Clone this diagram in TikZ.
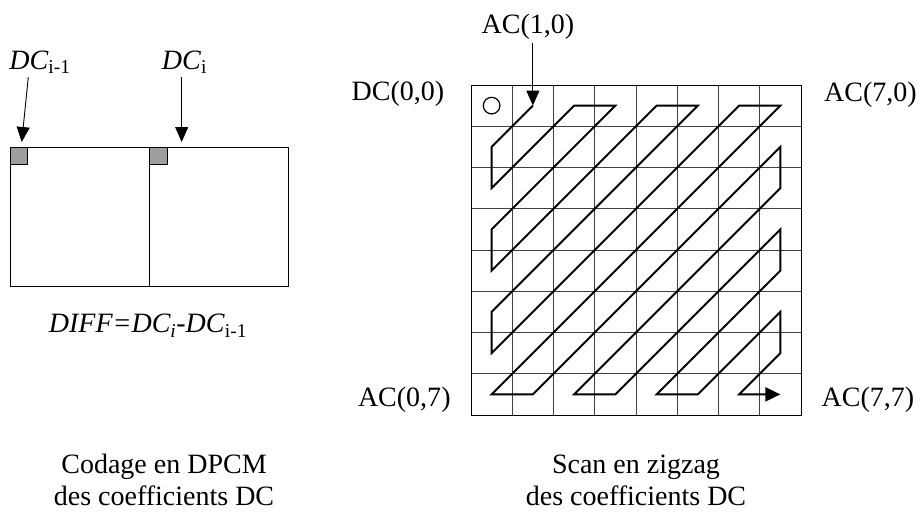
\documentclass[tikz,border=0pt]{standalone}
\usepackage{fontspec}
\setmainfont{Liberation Serif}
\usetikzlibrary{calc}
\usetikzlibrary{arrows.meta}

\begin{document}
\begin{tikzpicture}[x=1pt,y=-1pt,font=\fontsize{28}{32}\selectfont]
\tikzstyle{lbl}=[anchor=base, inner sep=3.3pt]
\tikzstyle{arr}=[line width=0.9pt, -{Triangle[width=13pt,length=15pt]}]
\tikzstyle{dcbox}=[draw, line width=1pt, fill=black!38]

\useasboundingbox (0,0) rectangle (920,511);

% codage DPCM
\draw[line width=1pt] (10,147) rectangle (288.7,286);
\draw[line width=1pt] (149.3,147) -- (149.3,286);
\draw[dcbox] (10,147) rectangle (27.7,164.7);
\draw[dcbox] (149.3,147) rectangle (167,164.7);

\node (dcprev) [lbl] at (40,69.3) {\textit{DC}\textsubscript{i-1}};
\node (dci) [lbl] at (184.5,69.3) {\textit{DC}\textsubscript{i}};
\coordinate (dcprevtip) at (21.7,142);
\coordinate (dcitip) at (181.7,142);
\draw[arr] ($(dcprev.south)+(-11.7,0)$) -- (dcprevtip);
\draw[arr] (dci.south -| dcitip) -- (dcitip);

\node (diff) [lbl] at (148,332.7) {\textit{DIFF=DC\textsubscript{i}-DC}\textsubscript{i-1}};
\node (capdpcm) [lbl, align=center] at (164,505) {Codage en DPCM\\des coefficients DC};

% scan en zigzag
\node (dc00) [lbl] at (398,100) {DC(0,0)};
\node (ac10) [lbl] at (528,33.3) {AC(1,0)};
\node (ac70) [lbl] at (870.5,101) {AC(7,0)};
\node (ac07) [lbl] at (404.3,406.7) {AC(0,7)};
\node (ac77) [lbl] at (868,406.7) {AC(7,7)};
\node (capzz) [lbl, align=center] at (636,505) {Scan en zigzag\\des coefficients DC};

\begin{scope}[shift={(471,85)}, x=41.25pt, y=-41.25pt]
\foreach \k in {1,...,7} {
  \draw[line width=0.8pt, black!75] (\k,0) -- (\k,8);
  \draw[line width=0.8pt, black!75] (0,\k) -- (8,\k);
}
\draw[line width=1pt] (0,0) rectangle (8,8);
\draw[line width=1.2pt] (.5,.5) circle (8.3pt);
\coordinate (ac10tip) at (1.5,.5);
\draw[line width=1.9pt, -{Triangle[width=14pt,length=15pt]}]
  (1.5,.5) -- (.5,1.5) -- (.5,2.5) -- (2.5,.5) -- (3.5,.5) -- (.5,3.5)
  -- (.5,4.5) -- (4.5,.5) -- (5.5,.5) -- (.5,5.5) -- (.5,6.5) -- (6.5,.5)
  -- (7.5,.5) -- (.5,7.5) -- (1.5,7.5) -- (7.5,1.5) -- (7.5,2.5) -- (2.5,7.5)
  -- (3.5,7.5) -- (7.5,3.5) -- (7.5,4.5) -- (4.5,7.5) -- (5.5,7.5) -- (7.5,5.5)
  -- (7.5,6.5) -- (6.5,7.5) -- (7.5,7.5);
\end{scope}
\draw[arr] (ac10.south -| ac10tip) -- (ac10tip);

\end{tikzpicture}
\end{document}
